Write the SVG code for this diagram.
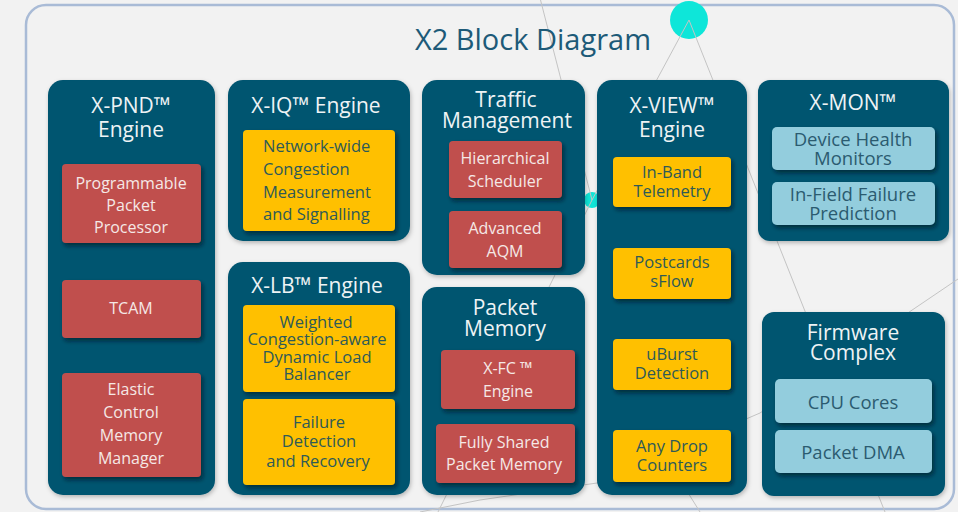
<svg xmlns="http://www.w3.org/2000/svg" width="958" height="512" viewBox="0 0 958 512">
<defs>
<style>
.blk{fill:#06546f}
.red{fill:#c0504d}
.yel{fill:#ffc000}
.lb{fill:#93cddd}
.ln{stroke:#c4c4c4;stroke-width:1;fill:none}
.t{font-family:"Open Sans","Liberation Sans",sans-serif;text-anchor:middle}
.tt{font-size:21px;fill:#eef3f5}
.tr{font-size:16px;fill:#f5e8e6}
.ty{font-size:16.5px;fill:#2e5a58}
.tb{font-size:18.5px;fill:#2b5b70}
.tm{font-size:1.05em}
</style>
<filter id="sh" x="-20%" y="-20%" width="150%" height="160%">
<feDropShadow dx="2" dy="3" stdDeviation="2" flood-color="#001822" flood-opacity="0.6"/>
</filter>
<filter id="sh2" x="-10%" y="-10%" width="130%" height="130%">
<feDropShadow dx="1" dy="2" stdDeviation="2" flood-color="#000000" flood-opacity="0.25"/>
</filter>
</defs>
<rect x="0" y="0" width="958" height="512" fill="#f2f2f2"/>
<rect x="26" y="5" width="928" height="504" rx="20" fill="#f2f2f2" stroke="#a9bbd6" stroke-width="2.5"/>
<g id="decor">
<circle cx="689" cy="20" r="19" fill="#0ee6d9"/>
<circle cx="592" cy="200" r="8" fill="#0ee6d9"/>
<line class="ln" x1="540" y1="-2" x2="592" y2="200"/>
<line class="ln" x1="689" y1="20" x2="592" y2="200"/>
<line class="ln" x1="592" y1="200" x2="438" y2="512"/>
<line class="ln" x1="689" y1="20" x2="885" y2="512"/>
<polyline class="ln" points="958,279 760,413 597,483 480,500 420,512"/>
<line class="ln" x1="680" y1="480" x2="700" y2="512"/>
</g>
<text class="t" x="533" y="50" font-size="29" fill="#1d5a78">X2 Block Diagram</text>
<g id="connectors"/>
<g id="xpnd">
<rect class="blk" x="48" y="80" width="167" height="415" rx="15" filter="url(#sh2)"/>
<text class="t tt" x="131" y="113">X-PND<tspan class="tm">™</tspan></text>
<text class="t tt" x="131" y="137">Engine</text>
<rect class="red" x="62" y="164" width="139" height="79" rx="4" filter="url(#sh)"/>
<text class="t tr" x="131" y="189">Programmable</text>
<text class="t tr" x="131" y="211">Packet</text>
<text class="t tr" x="131" y="233">Processor</text>
<rect class="red" x="62" y="280" width="139" height="58" rx="4" filter="url(#sh)"/>
<text class="t tr" x="131" y="314">TCAM</text>
<rect class="red" x="62" y="373" width="139" height="104" rx="4" filter="url(#sh)"/>
<text class="t tr" x="131" y="395">Elastic</text>
<text class="t tr" x="131" y="418">Control</text>
<text class="t tr" x="131" y="441">Memory</text>
<text class="t tr" x="131" y="464">Manager</text>
</g>
<g id="xiq">
<rect class="blk" x="228" y="80" width="182" height="161" rx="15" filter="url(#sh2)"/>
<text class="t tt" x="316" y="113">X-IQ<tspan class="tm">™</tspan> Engine</text>
<rect class="yel" x="243" y="130" width="152" height="101" rx="4" filter="url(#sh)"/>
<text class="t ty" x="263" y="152" style="text-anchor:start">Network-wide</text>
<text class="t ty" x="263" y="175" style="text-anchor:start">Congestion</text>
<text class="t ty" x="263" y="198" style="text-anchor:start">Measurement</text>
<text class="t ty" x="263" y="220" style="text-anchor:start">and Signalling</text>
</g>
<g id="xlb">
<rect class="blk" x="228" y="262" width="182" height="233" rx="15" filter="url(#sh2)"/>
<text class="t tt" x="317" y="293">X-LB<tspan class="tm">™</tspan> Engine</text>
<rect class="yel" x="243" y="305" width="152" height="87" rx="4" filter="url(#sh)"/>
<text class="t ty" x="316" y="328">Weighted</text>
<text class="t ty" x="317" y="345">Congestion-aware</text>
<text class="t ty" x="317" y="363">Dynamic Load</text>
<text class="t ty" x="317" y="380">Balancer</text>
<rect class="yel" x="243" y="399" width="152" height="86" rx="4" filter="url(#sh)"/>
<text class="t ty" x="319" y="428">Failure</text>
<text class="t ty" x="319" y="447">Detection</text>
<text class="t ty" x="318" y="467">and Recovery</text>
</g>
<g id="tm">
<rect class="blk" x="422" y="80" width="163" height="195" rx="15" filter="url(#sh2)"/>
<text class="t tt" x="506" y="107">Traffic</text>
<text class="t tt" x="507" y="128">Management</text>
<rect class="red" x="449" y="141" width="113" height="57" rx="4" filter="url(#sh)"/>
<text class="t tr" x="505" y="164">Hierarchical</text>
<text class="t tr" x="505" y="187">Scheduler</text>
<rect class="red" x="449" y="211" width="113" height="57" rx="4" filter="url(#sh)"/>
<text class="t tr" x="505" y="234">Advanced</text>
<text class="t tr" x="505" y="257">AQM</text>
</g>
<g id="pm">
<rect class="blk" x="422" y="287" width="163" height="208" rx="15" filter="url(#sh2)"/>
<text class="t tt" x="505" y="315">Packet</text>
<text class="t tt" x="505" y="336">Memory</text>
<rect class="red" x="441" y="350" width="134" height="59" rx="4" filter="url(#sh)"/>
<text class="t tr" x="508" y="374">X-FC <tspan class="tm">™</tspan></text>
<text class="t tr" x="508" y="397">Engine</text>
<rect class="red" x="436" y="424" width="139" height="59" rx="4" filter="url(#sh)"/>
<text class="t tr" x="504" y="448">Fully Shared</text>
<text class="t tr" x="504" y="470">Packet Memory</text>
</g>
<g id="xview">
<rect class="blk" x="597" y="80" width="150" height="415" rx="15" filter="url(#sh2)"/>
<text class="t tt" x="672" y="113">X-VIEW<tspan class="tm">™</tspan></text>
<text class="t tt" x="672" y="137">Engine</text>
<rect class="yel" x="613" y="157" width="118" height="50" rx="4" filter="url(#sh)"/>
<text class="t ty" x="672" y="178">In-Band</text>
<text class="t ty" x="672" y="197">Telemetry</text>
<rect class="yel" x="613" y="248" width="118" height="51" rx="4" filter="url(#sh)"/>
<text class="t ty" x="672" y="268">Postcards</text>
<text class="t ty" x="672" y="287">sFlow</text>
<rect class="yel" x="613" y="339" width="118" height="51" rx="4" filter="url(#sh)"/>
<text class="t ty" x="672" y="360">uBurst</text>
<text class="t ty" x="672" y="379">Detection</text>
<rect class="yel" x="613" y="430" width="118" height="52" rx="4" filter="url(#sh)"/>
<text class="t ty" x="672" y="452">Any Drop</text>
<text class="t ty" x="672" y="471">Counters</text>
</g>
<g id="xmon">
<rect class="blk" x="758" y="80" width="191" height="161" rx="12" filter="url(#sh2)"/>
<text class="t tt" x="853" y="110">X-MON<tspan class="tm">™</tspan></text>
<rect class="lb" x="772" y="127" width="163" height="43" rx="5" filter="url(#sh)"/>
<text class="t tb" x="853" y="146">Device Health</text>
<text class="t tb" x="853" y="165">Monitors</text>
<rect class="lb" x="772" y="182" width="163" height="43" rx="5" filter="url(#sh)"/>
<text class="t tb" x="853" y="201">In-Field Failure</text>
<text class="t tb" x="853" y="220">Prediction</text>
</g>
<g id="fw">
<rect class="blk" x="762" y="312" width="183" height="184" rx="12" filter="url(#sh2)"/>
<text class="t tt" x="853" y="340">Firmware</text>
<text class="t tt" x="853" y="360">Complex</text>
<rect class="lb" x="775" y="379" width="157" height="44" rx="5" filter="url(#sh)"/>
<text class="t tb" x="853" y="409">CPU Cores</text>
<rect class="lb" x="775" y="430" width="157" height="43" rx="5" filter="url(#sh)"/>
<text class="t tb" x="853" y="459">Packet DMA</text>
</g>
</svg>
